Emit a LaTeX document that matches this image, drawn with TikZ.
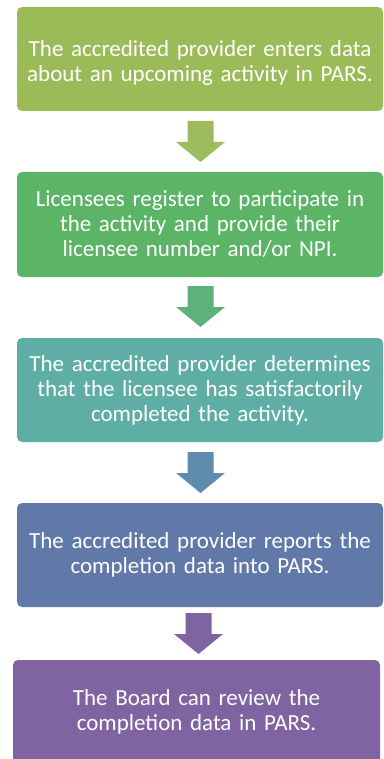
\documentclass[tikz,border=0pt]{standalone}
\usepackage{fontspec}
\setmainfont{Carlito}
\definecolor{c1}{HTML}{9BBB59}
\definecolor{a1}{HTML}{9DBC5E}
\definecolor{c2}{HTML}{5CB466}
\definecolor{a2}{HTML}{5DB27C}
\definecolor{c3}{HTML}{5FAEA6}
\definecolor{a3}{HTML}{5F8CAC}
\definecolor{c4}{HTML}{6079A8}
\definecolor{a4}{HTML}{8064A2}
\definecolor{c5}{HTML}{8064A2}
\tikzset{
  stepbox/.style={rectangle, rounded corners=5pt, minimum width=366pt, text width=360pt, align=center, text=white, font=\fontsize{23}{25}\selectfont, inner sep=0pt},
}
\newcommand{\blockarrow}[2]{% coordinate name, colour
  \fill[#2] ($(#1)+(-13,0)$) -- ($(#1)+(13,0)$) -- ($(#1)+(13,21)$) -- ($(#1)+(24.5,21)$) -- ($(#1)+(0,41)$) -- ($(#1)+(-24.5,21)$) -- ($(#1)+(-13,21)$) -- cycle;}
\usetikzlibrary{calc}
\begin{document}
\begin{tikzpicture}[x=1pt,y=-1pt]
\useasboundingbox (0,0) rectangle (383,759);
\node[stepbox, fill=c1, minimum height=104pt] (b1) at (200,59) {\rule{0pt}{24pt}The accredited provider enters data\\about an upcoming activity in PARS.};
\node[stepbox, fill=c2, minimum height=105pt] (b2) at (200,224.5) {Licensees register to participate in\\the activity and provide their\\licensee number and/or NPI.};
\node[stepbox, fill=c3, minimum height=104pt] (b3) at (200,390) {The accredited provider determines\\that the licensee has satisfactorily\\completed the activity.};
\node[stepbox, fill=c4, minimum height=104pt] (b4) at (200,555) {The accredited provider reports the\\completion data into PARS.};
\node[stepbox, fill=c5, minimum height=104pt, minimum width=367pt] (b5) at (196.5,712) {The Board can review the\\completion data in PARS.};
\coordinate (p1) at (200.5,121);
\coordinate (p2) at (200.5,286);
\coordinate (p3) at (200.5,452);
\coordinate (p4) at (198.5,613);
\blockarrow{p1}{a1}
\blockarrow{p2}{a2}
\blockarrow{p3}{a3}
\blockarrow{p4}{a4}
\end{tikzpicture}
\end{document}
